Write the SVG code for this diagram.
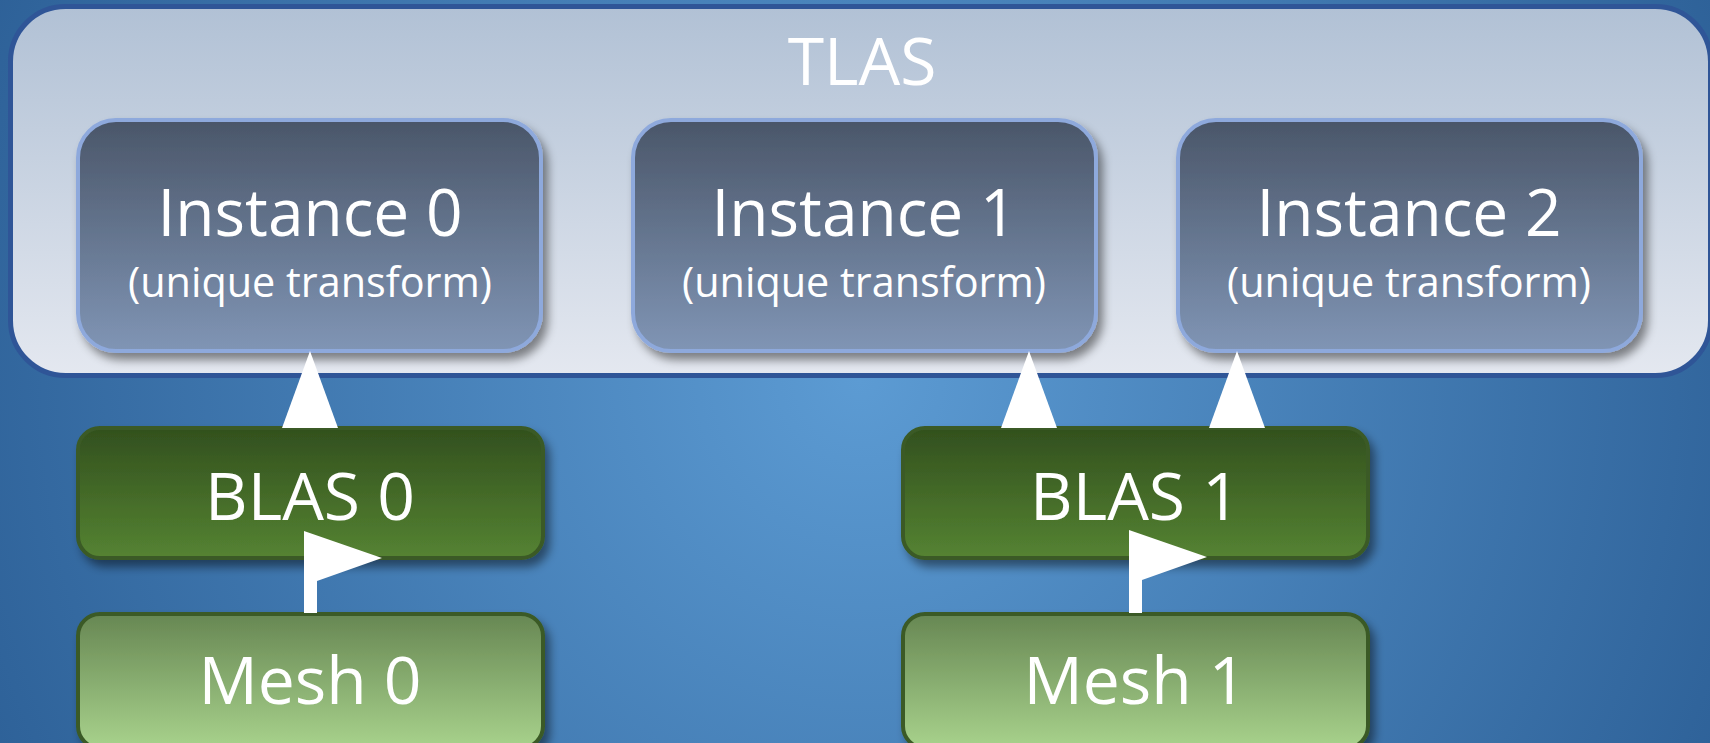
<svg xmlns="http://www.w3.org/2000/svg" width="1710" height="743" viewBox="0 0 1710 743">
  <defs>
    <radialGradient id="bg" gradientUnits="userSpaceOnUse" cx="860" cy="380" r="980">
      <stop offset="0" stop-color="#5C9BD3"/>
      <stop offset="1" stop-color="#2C5F96"/>
    </radialGradient>
    <linearGradient id="tlasFill" x1="0" y1="0" x2="0" y2="1">
      <stop offset="0" stop-color="#B1C1D5"/>
      <stop offset="1" stop-color="#E4E8F0"/>
    </linearGradient>
    <linearGradient id="instFill" x1="0" y1="0" x2="0" y2="1">
      <stop offset="0" stop-color="#4A5669"/>
      <stop offset="1" stop-color="#8095B5"/>
    </linearGradient>
    <linearGradient id="blasFill" x1="0" y1="0" x2="0" y2="1">
      <stop offset="0" stop-color="#32501E"/>
      <stop offset="1" stop-color="#558332"/>
    </linearGradient>
    <linearGradient id="meshFill" x1="0" y1="0" x2="0" y2="1">
      <stop offset="0" stop-color="#678753"/>
      <stop offset="1" stop-color="#A8D28C"/>
    </linearGradient>
    <filter id="shadow" x="-10%" y="-10%" width="125%" height="135%">
      <feDropShadow dx="5" dy="7" stdDeviation="5" flood-color="#000" flood-opacity="0.45"/>
    </filter>
  </defs>
  <style>
    .label { font-family: "Open Sans", "Liberation Sans", sans-serif; fill: #FFFFFF; text-anchor: middle; }
    .big { font-size: 66px; }
    .small { font-size: 42px; }
    .tlas { fill: url(#tlasFill); stroke: #2F5597; stroke-width: 5; }
    .inst { fill: url(#instFill); stroke: #8EA9DC; stroke-width: 4; filter: url(#shadow); }
    .blas { fill: url(#blasFill); stroke: #3A5A25; stroke-width: 4; filter: url(#shadow); }
    .mesh { fill: url(#meshFill); stroke: #3A5A25; stroke-width: 4; filter: url(#shadow); }
    .arrow { fill: #FFFFFF; }
  </style>

  <!-- backdrop -->
  <rect x="0" y="0" width="1710" height="743" fill="url(#bg)"/>

  <!-- top-level acceleration structure container -->
  <g id="tlas">
    <rect class="tlas" x="10.5" y="6.5" width="1700" height="369" rx="55"/>
    <text class="label big" x="862" y="85">TLAS</text>
  </g>

  <g id="instance0">
    <rect class="inst" x="78" y="120" width="463" height="231" rx="38"/>
    <text class="label big" x="310" y="236" textLength="305" lengthAdjust="spacingAndGlyphs">Instance 0</text>
    <text class="label small" x="310" y="297" textLength="364" lengthAdjust="spacingAndGlyphs">(unique transform)</text>
  </g>

  <g id="instance1">
    <rect class="inst" x="633" y="120" width="463" height="231" rx="38"/>
    <text class="label big" x="864" y="236" textLength="305" lengthAdjust="spacingAndGlyphs">Instance 1</text>
    <text class="label small" x="864" y="297" textLength="364" lengthAdjust="spacingAndGlyphs">(unique transform)</text>
  </g>

  <g id="instance2">
    <rect class="inst" x="1178" y="120" width="463" height="231" rx="38"/>
    <text class="label big" x="1409" y="236" textLength="305" lengthAdjust="spacingAndGlyphs">Instance 2</text>
    <text class="label small" x="1409" y="297" textLength="364" lengthAdjust="spacingAndGlyphs">(unique transform)</text>
  </g>

  <!-- bottom-level acceleration structures -->
  <g id="blas0">
    <rect class="blas" x="78" y="428" width="465" height="130" rx="22"/>
    <text class="label big" x="310" y="520">BLAS 0</text>
  </g>

  <g id="blas1">
    <rect class="blas" x="903" y="428" width="465" height="130" rx="22"/>
    <text class="label big" x="1135" y="520">BLAS 1</text>
  </g>

  <!-- source meshes -->
  <g id="mesh0">
    <rect class="mesh" x="78" y="614" width="465" height="134" rx="22"/>
    <text class="label big" x="310" y="704">Mesh 0</text>
  </g>

  <g id="mesh1">
    <rect class="mesh" x="903" y="614" width="465" height="134" rx="22"/>
    <text class="label big" x="1135" y="704">Mesh 1</text>
  </g>

  <!-- connectors -->
  <g id="connectors">
    <!-- BLAS 0 -> Instance 0 -->
    <polygon class="arrow" points="310,351 282,428 338,428"/>
    <!-- BLAS 1 -> Instance 1 -->
    <polygon class="arrow" points="1029,351 1001,428 1057,428"/>
    <!-- BLAS 1 -> Instance 2 -->
    <polygon class="arrow" points="1237,351 1209,428 1265,428"/>
    <!-- Mesh 0 -> BLAS 0 -->
    <polygon class="arrow" points="304,531 382,558 317,581 317,613 304,613"/>
    <!-- Mesh 1 -> BLAS 1 -->
    <polygon class="arrow" points="1129,530 1207,557 1142,580 1142,613 1129,613"/>
  </g>
</svg>
